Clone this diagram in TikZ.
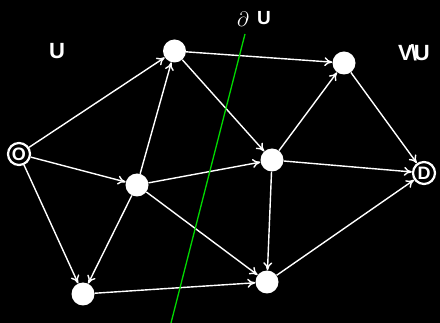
\documentclass[tikz,border=0pt]{standalone}
\usepackage{fontspec}
\setmainfont{Liberation Sans}
\usetikzlibrary{arrows.meta}
\begin{document}
\begin{tikzpicture}[x=1pt,y=-1pt,
  vtx/.style={circle,fill=white,draw=none,minimum size=23pt,inner sep=0pt},
  term/.style={circle,fill=black,draw=white,line width=2.2pt,minimum size=22pt,inner sep=0pt,
    text=white,font=\bfseries\fontsize{18}{18}\selectfont},
  edge/.style={white,line width=1.4pt,-{To[length=8pt,width=9pt]}},
  lbl/.style={text=white,font=\bfseries\fontsize{22}{22}\selectfont,inner sep=0pt}]
  \fill[black] (0,0) rectangle (440,323);
  \useasboundingbox (0,0) rectangle (440,323);

  % vertices of the network
  \node[term] (o) at (19,154) {O};
  \node[vtx]  (a) at (174.5,51) {};
  \node[vtx]  (b) at (344,63) {};
  \node[vtx]  (c) at (137,185) {};
  \node[vtx]  (e) at (272,160) {};
  \node[term] (d) at (424,173) {D};
  \node[vtx]  (f) at (83,294) {};
  \node[vtx]  (g) at (267,282) {};

  % directed edges
  \draw[edge] (o) -- (a);
  \draw[edge] (o) -- (c);
  \draw[edge] (o) -- (f);
  \draw[edge] (c) -- (a);
  \draw[edge] (a) -- (b);
  \draw[edge] (a) -- (e);
  \draw[edge] (c) -- (e);
  \draw[edge] (c) -- (f);
  \draw[edge] (c) -- (g);
  \draw[edge] (f) -- (g);
  \draw[edge] (e) -- (b);
  \draw[edge] (e) -- (g);
  \draw[edge] (e) -- (d);
  \draw[edge] (b) -- (d);
  \draw[edge] (g) -- (d);

  % cut boundary
  \coordinate (cutTop) at (245,34);
  \coordinate (cutBot) at (171,323);
  \draw[green!85!black,line width=1.3pt] (cutTop) -- (cutBot);

  % set labels
  \node[lbl] (lu) at (57,51) {U};
  \node[lbl] (lvu) at (414,53) {V\kern-2pt\textbackslash\kern-3pt U};
  \node[text=white,inner sep=0pt,font=\fontsize{20}{20}\selectfont] (ldel) at (243,19) {$\partial$};
  \node[lbl,font=\bfseries\fontsize{19}{19}\selectfont] (lbu) at (264,18) {U};
\end{tikzpicture}
\end{document}
